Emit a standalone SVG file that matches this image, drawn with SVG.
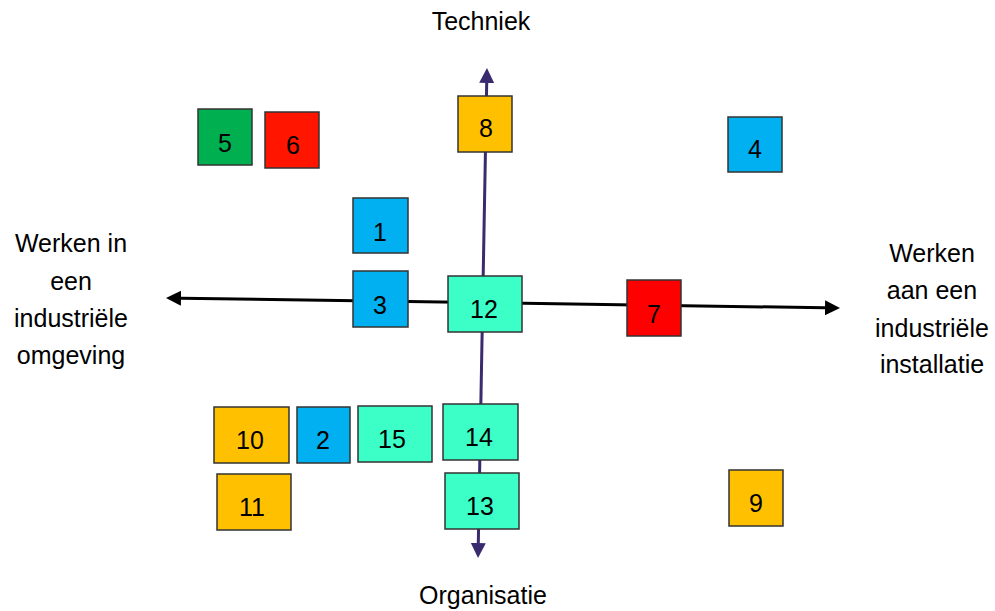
<svg xmlns="http://www.w3.org/2000/svg" width="995" height="611" viewBox="0 0 995 611">
<style>
  .box { stroke: #333333; stroke-width: 1.5; }
  .gold { fill: #FFC000; }
  .blue { fill: #00B0F0; }
  .green { fill: #00B050; }
  .red { fill: #FF0000; }
  .teal { fill: #3CFFC8; }
  text { font-family: "Liberation Sans", Arial, sans-serif; font-size: 25px; fill: #000000; text-anchor: middle; }
</style>
<defs>
  <marker id="ahBlack" markerUnits="userSpaceOnUse" markerWidth="16" markerHeight="16" refX="0" refY="7.5" orient="auto-start-reverse" viewBox="0 0 16 16">
    <path d="M0,0 L15,7.5 L0,15 z" fill="#000000"/>
  </marker>
  <marker id="ahPurple" markerUnits="userSpaceOnUse" markerWidth="16" markerHeight="16" refX="0" refY="7.5" orient="auto-start-reverse" viewBox="0 0 16 16">
    <path d="M0,0 L15,7.5 L0,15 z" fill="#3A2A6E"/>
  </marker>
</defs>
<rect x="0" y="0" width="995" height="611" fill="#FFFFFF"/>
<g id="connectors">
  <line x1="486.7" y1="83" x2="478.3" y2="543" stroke="#3A2A6E" stroke-width="3" marker-start="url(#ahPurple)" marker-end="url(#ahPurple)"/>
  <line x1="181" y1="298.2" x2="825" y2="307.8" stroke="#000000" stroke-width="3" marker-start="url(#ahBlack)" marker-end="url(#ahBlack)"/>
</g>
<g id="label-techniek"><text x="481" y="30">Techniek</text></g>
<g id="label-organisatie"><text x="483" y="604">Organisatie</text></g>
<g id="label-left">
  <text x="71" y="252">Werken in</text>
  <text x="71" y="290">een</text>
  <text x="71" y="327">industriële</text>
  <text x="71" y="364">omgeving</text>
</g>
<g id="label-right">
  <text x="932" y="262">Werken</text>
  <text x="932" y="299">aan een</text>
  <text x="932" y="337">industriële</text>
  <text x="932" y="373">installatie</text>
</g>
<g id="n5"><rect class="box green" x="198" y="109" width="54" height="56"/><text x="225" y="152">5</text></g>
<g id="n6"><rect class="box" fill="#FF1500" x="265" y="112" width="54" height="56"/><text x="293" y="154">6</text></g>
<g id="n8"><rect class="box gold" x="458" y="96" width="54" height="56"/><text x="486" y="137">8</text></g>
<g id="n4"><rect class="box blue" x="728" y="117" width="54" height="55"/><text x="755" y="158">4</text></g>
<g id="n1"><rect class="box blue" x="353" y="198" width="55" height="55"/><text x="380" y="241">1</text></g>
<g id="n3"><rect class="box blue" x="353" y="271" width="55" height="56"/><text x="380" y="314">3</text></g>
<g id="n12"><rect class="box teal" x="448" y="276" width="74" height="56"/><text x="484" y="318">12</text></g>
<g id="n7"><rect class="box red" x="627" y="280" width="54" height="56"/><text x="654" y="323">7</text></g>
<g id="n10"><rect class="box gold" x="214" y="407" width="75" height="56"/><text x="250" y="449">10</text></g>
<g id="n2"><rect class="box blue" x="297" y="407" width="53" height="56"/><text x="323" y="449">2</text></g>
<g id="n15"><rect class="box teal" x="358" y="406" width="74" height="56"/><text x="392" y="448">15</text></g>
<g id="n14"><rect class="box teal" x="443" y="404" width="75" height="56"/><text x="479" y="446">14</text></g>
<g id="n11"><rect class="box gold" x="217" y="474" width="74" height="56"/><text x="252" y="516">11</text></g>
<g id="n13"><rect class="box teal" x="445" y="473" width="74" height="56"/><text x="480" y="515">13</text></g>
<g id="n9"><rect class="box gold" x="729" y="470" width="54" height="56"/><text x="756" y="512">9</text></g>
</svg>
